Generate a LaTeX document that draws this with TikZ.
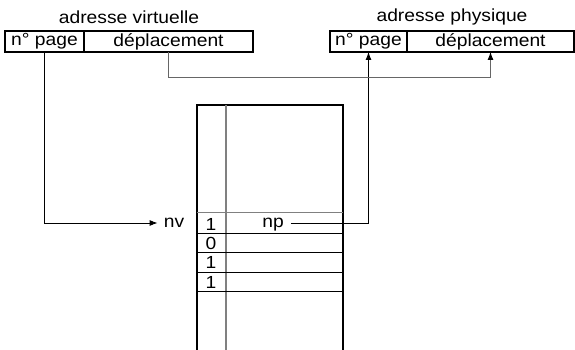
\documentclass[tikz,border=0pt]{standalone}
\usepackage{fontspec}
\setmainfont{Liberation Sans}[FakeStretch=1.1]
\usetikzlibrary{arrows.meta}
\usetikzlibrary{positioning}
\tikzset{cell/.style={rectangle,draw=black,line width=1.4pt,minimum height=21pt,inner sep=0pt,outer sep=0pt}}
\tikzset{link/.style={-{Latex[length=8pt,width=6pt,color=black]},line width=0.9pt}}

\begin{document}
\begin{tikzpicture}[x=1pt,y=-1pt,font=\fontsize{17.5}{19}\selectfont]
\useasboundingbox (0,0) rectangle (575,350);
% adresse virtuelle
\node[cell, minimum width=79pt] (vpage) at (44.5,41.5) {n° page};
\node[cell, minimum width=169pt, right=0pt of vpage] (vdep) {déplacement};
\node (vlabel) at (129,17) {adresse virtuelle};
% adresse physique
\node[cell, minimum width=77pt] (ppage) at (368.5,41.5) {n° page};
\node[cell, minimum width=167pt, right=0pt of ppage] (pdep) {déplacement};
\node (plabel) at (452,17) {adresse physique};

% table des pages
\draw[line width=1.6pt] (197,350) -- (197,105) -- (343,105) -- (343,350);
\draw[gray, line width=1.2pt] (226,105) -- (226,350);
\draw[gray, line width=0.9pt] (197,212) -- (343,212);
\foreach \y in {233,252,272,291}
  \draw[line width=0.8pt] (197,\y) -- (343,\y);
\node (bit1) at (211,224) {1};
\node (bit2) at (211,243) {0};
\node (bit3) at (211,262) {1};
\node (bit4) at (211,282) {1};
\node[inner xsep=7pt, text depth=0pt] (np) at (273,223) {np};
\node[inner xsep=6pt, text depth=0pt] (nv) at (174,223) {nv};

 \draw[link] (vpage.south) |- (nv.west);
 \draw[link] (np.east) -| (ppage.south);
 \draw[link, gray!80!black] (vdep.south) -- ++(0,25) -| (pdep.south);
\end{tikzpicture}
\end{document}
